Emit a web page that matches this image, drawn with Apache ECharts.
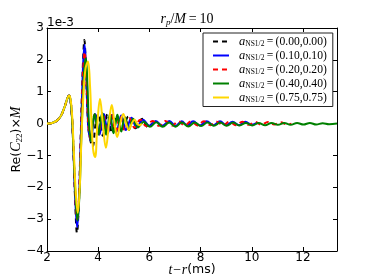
<!DOCTYPE html>
<html><head><meta charset="utf-8">
<script src="https://cdn.jsdelivr.net/npm/echarts@6/dist/echarts.min.js"></script>
<style>html,body{margin:0;padding:0;background:#fff}#c{width:374px;height:280px}</style>
</head><body><div id="c"></div>
<script>
const spinLabels = ['(0.00,0.00)','(0.10,0.10)','(0.20,0.20)','(0.40,0.40)','(0.75,0.75)'];
const xTicks = [2,4,6,8,10,12];
const yTicks = [-4,-3,-2,-1,0,1,2,3];

const black = [[2.0,0.0],[2.2,0.02],[2.4,0.1],[2.55,0.25],[2.7,0.55],[2.8,0.8],[2.86,0.88],[2.92,0.72],[2.98,0.15],[3.04,-1.0],[3.1,-2.4],[3.17,-3.43],[3.24,-2.6],[3.3,-0.9],[3.36,0.8],[3.41,2.0],[3.46,2.62],[3.52,1.7],[3.58,0.4],[3.64,-0.3],[3.78,-0.72],[3.9,0.0],[4.0,0.3],[4.09,0.0],[4.18,-0.38],[4.27,0.0],[4.36,0.3],[4.45,0.0],[4.54,-0.3],[4.63,0.0],[4.72,0.25],[4.82,0.0],[4.92,-0.25],[5.04,0.0],[5.18,0.22],[5.32,0.0],[5.45,-0.15],[5.58,0.0],[5.72,0.15],[5.84,0.0],[5.95,-0.12],[6.1,0.0]];

const blue = [[2.0,0.0],[2.2,0.02],[2.4,0.1],[2.55,0.25],[2.7,0.55],[2.8,0.8],[2.86,0.88],[2.92,0.72],[2.98,0.15],[3.04,-1.0],[3.1,-2.3],[3.18,-3.25],[3.25,-2.4],[3.31,-0.8],[3.37,0.9],[3.42,2.0],[3.47,2.47],[3.53,1.6],[3.59,0.3],[3.64,-0.3],[3.72,-0.55],[3.8,0.0],[3.88,0.3],[3.96,0.0],[4.05,-0.35],[4.13,0.0],[4.22,0.3],[4.3,0.0],[4.38,-0.3],[4.46,0.0],[4.55,0.28],[4.63,0.0],[4.72,-0.25],[4.81,0.0],[4.9,0.25],[4.99,0.0],[5.08,-0.2],[5.19,0.0],[5.3,0.18],[5.5,-0.12],[5.75,0.12],[6.0,-0.07],[6.25,0.08],[6.5,-0.07],[6.78,0.08],[7.02,-0.07],[7.26,0.07],[7.48,-0.06],[7.71,0.07],[7.97,-0.06],[8.24,0.07],[8.5,-0.05],[8.76,0.07],[9.0,-0.05],[9.25,0.06],[9.5,-0.05],[9.75,0.06],[10.0,-0.04],[10.2,0.02]];

const red = [[2.0,0.0],[2.2,0.02],[2.4,0.1],[2.55,0.25],[2.7,0.55],[2.8,0.8],[2.86,0.88],[2.92,0.72],[2.98,0.15],[3.04,-0.95],[3.1,-2.2],[3.18,-3.0],[3.25,-2.3],[3.31,-0.8],[3.37,0.8],[3.42,1.8],[3.47,2.25],[3.53,1.5],[3.59,0.3],[3.63,-0.2],[3.7,-0.5],[3.78,0.0],[3.86,0.28],[3.94,0.0],[4.02,-0.32],[4.1,0.0],[4.19,0.3],[4.27,0.0],[4.36,-0.3],[4.44,0.0],[4.52,0.27],[4.6,0.0],[4.69,-0.27],[4.77,0.0],[4.86,0.24],[4.94,0.0],[5.03,-0.2],[5.22,0.17],[5.42,-0.13],[5.64,0.12],[5.88,-0.08],[6.12,0.08],[6.38,-0.07],[6.63,0.08],[6.88,-0.07],[7.13,0.07],[7.38,-0.06],[7.63,0.07],[7.88,-0.06],[8.13,0.07],[8.38,-0.05],[8.63,0.06],[8.88,-0.05],[9.13,0.06],[9.38,-0.05],[9.63,0.06],[9.88,-0.04],[10.13,0.05],[10.38,-0.04],[10.63,0.05],[10.88,-0.03],[11.13,0.04],[11.38,-0.03],[11.55,0.0]];

const green = [[2.0,0.0],[2.2,0.02],[2.4,0.1],[2.55,0.25],[2.7,0.55],[2.8,0.8],[2.86,0.88],[2.92,0.72],[2.98,0.15],[3.04,-0.95],[3.11,-2.2],[3.19,-3.05],[3.27,-2.2],[3.33,-0.7],[3.4,0.8],[3.46,1.75],[3.52,2.05],[3.58,1.2],[3.64,0.0],[3.72,-0.55],[3.79,0.0],[3.86,0.3],[3.93,0.0],[4.0,-0.35],[4.08,0.0],[4.16,0.33],[4.24,0.0],[4.31,-0.35],[4.39,0.0],[4.46,0.3],[4.53,0.0],[4.6,-0.3],[4.68,0.0],[4.75,0.28],[4.82,0.0],[4.9,-0.25],[4.97,0.0],[5.05,0.2],[5.2,-0.2],[5.36,0.15],[5.55,-0.12],[5.78,0.06],[6.02,-0.1],[6.27,0.04],[6.52,-0.1],[6.77,0.03],[7.02,-0.1],[7.27,0.03],[7.52,-0.09],[7.77,0.03],[8.02,-0.08],[8.27,0.03],[8.52,-0.07],[8.77,0.03],[9.02,-0.07],[9.27,0.03],[9.52,-0.06],[9.77,0.02],[10.02,-0.06],[10.27,0.02],[10.52,-0.05],[10.77,0.02],[11.02,-0.04],[11.27,0.02],[11.52,-0.04],[11.77,0.02],[12.02,-0.03],[12.27,0.02],[12.52,-0.03],[12.77,0.01],[13.02,-0.02],[13.33,0.0]];

const yellow = [[2.0,0.0],[2.2,0.02],[2.4,0.1],[2.55,0.25],[2.7,0.55],[2.8,0.8],[2.87,0.88],[2.93,0.72],[2.99,0.15],[3.05,-0.9],[3.12,-2.1],[3.2,-2.8],[3.28,-2.0],[3.34,-0.6],[3.41,0.7],[3.5,1.7],[3.6,1.95],[3.68,1.2],[3.74,0.0],[3.8,-0.8],[3.88,-1.05],[3.97,0.0],[4.07,0.77],[4.18,0.0],[4.3,-0.76],[4.42,0.0],[4.53,0.58],[4.64,0.0],[4.74,-0.42],[4.86,0.0],[4.98,0.3],[5.09,0.0],[5.2,-0.2],[5.31,0.0],[5.42,0.12],[5.52,0.0],[5.62,-0.05],[5.7,0.0]];

const colors = ['#000000','#0000ff','#ff0000','#008000','#ffd700'];
const dashes = [[5,4],'solid',[5,4],'solid','solid'];
const seriesData = [black, blue, red, green, yellow];

const chart = echarts.init(document.getElementById('c'), null, {renderer:'canvas'});
const minus = v => (v < 0 ? '\u2212' + (-v) : String(v));
const serif = 'Liberation Serif';
const sans = 'DejaVu Sans';
const tickStyle = {show:true, inside:true, length:4, lineStyle:{color:'#000', width:1}};
const baseX = {type:'value', min:2, max:13.33, interval:2, splitLine:{show:false},
  axisLine:{show:true, onZero:false, lineStyle:{color:'#000', width:1}}, axisTick:tickStyle};
const baseY = {type:'value', min:-4, max:3, interval:1, splitLine:{show:false},
  axisLine:{show:true, onZero:false, lineStyle:{color:'#000', width:1}}, axisTick:tickStyle};
const N = {fontWeight:'normal', color:'#000'};

chart.setOption({
  animation:false,
  backgroundColor:'#fff',
  grid:{left:47, top:28, width:290, height:223, show:false, containLabel:false, outerBoundsMode:'none'},
  title:{
    text:'{i|r}{s|p}{n|/}{i|M}{n|\u2009=\u200910}',
    left:'center', top:6,
    textStyle:{fontWeight:'normal', rich:{
      i:Object.assign({fontFamily:serif, fontStyle:'italic', fontSize:14, lineHeight:16}, N),
      n:Object.assign({fontFamily:serif, fontSize:14, lineHeight:16}, N),
      s:Object.assign({fontFamily:serif, fontStyle:'italic', fontSize:9, verticalAlign:'bottom', lineHeight:10}, N)
    }}
  },
  legend:{
    orient:'vertical', left:203, top:33,
    padding:[2,6,2,9], itemGap:0.5, itemWidth:16, itemHeight:10,
    borderColor:'#222', borderWidth:1, backgroundColor:'#fff', borderRadius:0,
    itemStyle:{opacity:0},
    data:spinLabels,
    formatter: name => '{i|a}{s|NS1/2}{n|\u2009=\u2009' + name + '}',
    textStyle:{padding:[0,0,0,5], rich:{
      i:Object.assign({fontFamily:serif, fontStyle:'italic', fontSize:12.5, lineHeight:14}, N),
      n:Object.assign({fontFamily:serif, fontSize:11.6, lineHeight:14}, N),
      s:Object.assign({fontFamily:serif, fontSize:7.5, verticalAlign:'bottom', lineHeight:8}, N)
    }}
  },
  graphic:[{type:'text', left:47, top:17, style:{text:'1e-3', font:'12px "DejaVu Sans"', fill:'#000'}}],
  xAxis:[
    Object.assign({}, baseX, {position:'bottom',
      axisLabel:{show:true, color:'#000', fontFamily:sans, fontSize:12, margin:1, showMaxLabel:false, formatter:minus},
      name:'{i|t\u2212r}{n|(ms)}', nameLocation:'middle', nameGap:12, nameMoveOverlap:false,
      nameTextStyle:{rich:{
        i:Object.assign({fontFamily:serif, fontStyle:'italic', fontSize:14}, N),
        n:Object.assign({fontFamily:sans, fontSize:12.5}, N)
      }}
    }),
    Object.assign({}, baseX, {position:'top', axisLabel:{show:false}})
  ],
  yAxis:[
    Object.assign({}, baseY, {position:'left',
      axisLabel:{show:true, color:'#000', fontFamily:sans, fontSize:12, margin:3, formatter:minus},
      name:'{n|Re(}{i|C}{s|22}{n|)}{n|\u00d7}{i|M}', nameLocation:'middle', nameRotate:90, nameGap:23, nameMoveOverlap:false,
      nameTextStyle:{rich:{
        i:Object.assign({fontFamily:serif, fontStyle:'italic', fontSize:14, lineHeight:15}, N),
        n:Object.assign({fontFamily:sans, fontSize:12.5, lineHeight:15}, N),
        s:Object.assign({fontFamily:serif, fontSize:9, verticalAlign:'bottom', lineHeight:9}, N)
      }}
    }),
    Object.assign({}, baseY, {position:'right', axisLabel:{show:false}})
  ],
  series: seriesData.map((d, k) => ({
    name: spinLabels[k], type:'line', data:d, xAxisIndex:0, yAxisIndex:0,
    smooth:0.4, showSymbol:false, symbol:'none', clip:true,
    lineStyle:{color:colors[k], width:2, type:dashes[k]},
    itemStyle:{color:colors[k]}
  }))
});
</script></body></html>
